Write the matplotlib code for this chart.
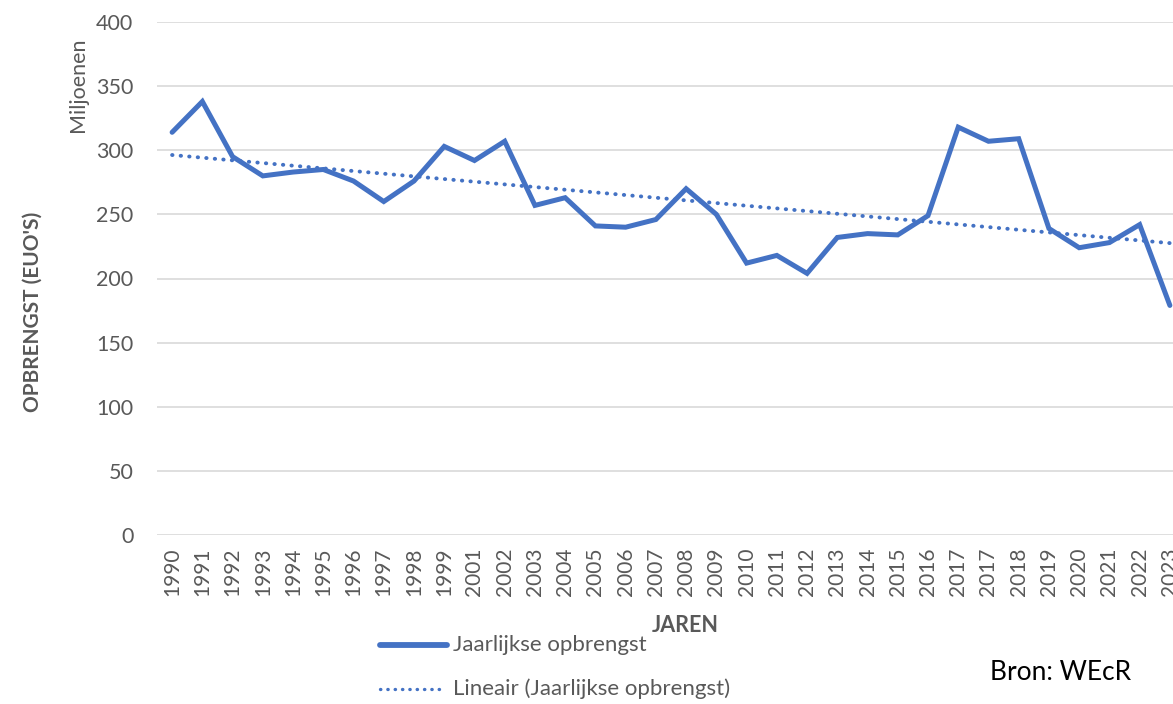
import numpy as np
import matplotlib
matplotlib.use("Agg")
import matplotlib.pyplot as plt
from matplotlib.lines import Line2D

plt.rcParams['font.family'] = ['Lato', 'DejaVu Sans']

years = ['1990', '1991', '1992', '1993', '1994', '1995', '1996', '1997', '1998', '1999',
         '2001', '2002', '2003', '2004', '2005', '2006', '2007', '2008', '2009', '2010',
         '2011', '2012', '2013', '2014', '2015', '2016', '2017', '2017', '2018', '2019',
         '2020', '2021', '2022', '2023']
opbrengst = [314, 338, 295, 280, 283, 285, 276, 260, 276, 303,
             292, 307, 257, 263, 241, 240, 246, 270, 250, 212,
             218, 204, 232, 235, 234, 249, 318, 307, 309, 239,
             224, 228, 242, 179]
yticks = [0, 50, 100, 150, 200, 250, 300, 350, 400]

grey = '#595959'
blue = '#4472C4'
W, H = 1173, 704

fig = plt.figure(figsize=(11.73, 7.04), dpi=100)
ax = fig.add_axes([157/W, 1-535/H, (1185-157)/W, (535-22)/H])

x = np.arange(len(years))
vals = np.array(opbrengst, dtype=float)
coef = np.polyfit(x, vals, 1)
trend = np.polyval(coef, x)

dots = (0, (0.1, 2.1))
ax.plot(x, vals, color=blue, lw=3.6, solid_joinstyle='miter', solid_capstyle='round', zorder=3)
ax.plot(x, trend, color=blue, lw=2.8, linestyle=dots, dash_capstyle='round', zorder=2)

ax.set_xlim(-0.5, len(years) - 0.5)
ax.set_ylim(0, 400)
ax.set_yticks(yticks)
ax.set_yticklabels([str(v) for v in yticks], fontsize=15.5, color=grey)
ax.set_xticks(x)
ax.set_xticklabels(years, rotation=90, fontsize=15, color=grey)
ax.tick_params(axis='y', length=0, pad=17)
ax.tick_params(axis='x', length=0, pad=9)
ax.grid(axis='y', color='#d9d9d9', lw=1.2)
ax.set_axisbelow(True)
for s in ax.spines.values():
    s.set_visible(False)

fig.text(78/W, 1-85/H, 'Miljoenen', rotation=90, ha='center', va='center', fontsize=15.5, color=grey)
fig.text(33/W, 1-312/H, "OPBRENGST (EUO'S)", rotation=90, ha='center', va='center',
         fontsize=15, fontweight='bold', color=grey)
fig.text(685/W, 1-625/H, 'JAREN', ha='center', va='center', fontsize=15.5, fontweight='bold', color=grey)
fig.text(990/W, 1-672/H, 'Bron: WEcR', ha='left', va='center', fontsize=19, color='black')

# legend (drawn in figure coordinates)
fig.add_artist(Line2D([380/W, 447/W], [1-645/H, 1-645/H], color=blue, lw=4.2,
                      solid_capstyle='round', transform=fig.transFigure))
fig.add_artist(Line2D([380/W, 440/W], [1-689/H, 1-689/H], color=blue, lw=2.4,
                      linestyle=dots, dash_capstyle='round', transform=fig.transFigure))
fig.text(453/W, 1-645/H, 'Jaarlijkse opbrengst', ha='left', va='center', fontsize=16, color=grey)
fig.text(453/W, 1-689/H, 'Lineair (Jaarlijkse opbrengst)', ha='left', va='center', fontsize=16, color=grey)

fig.savefig('out.png', dpi=100)
